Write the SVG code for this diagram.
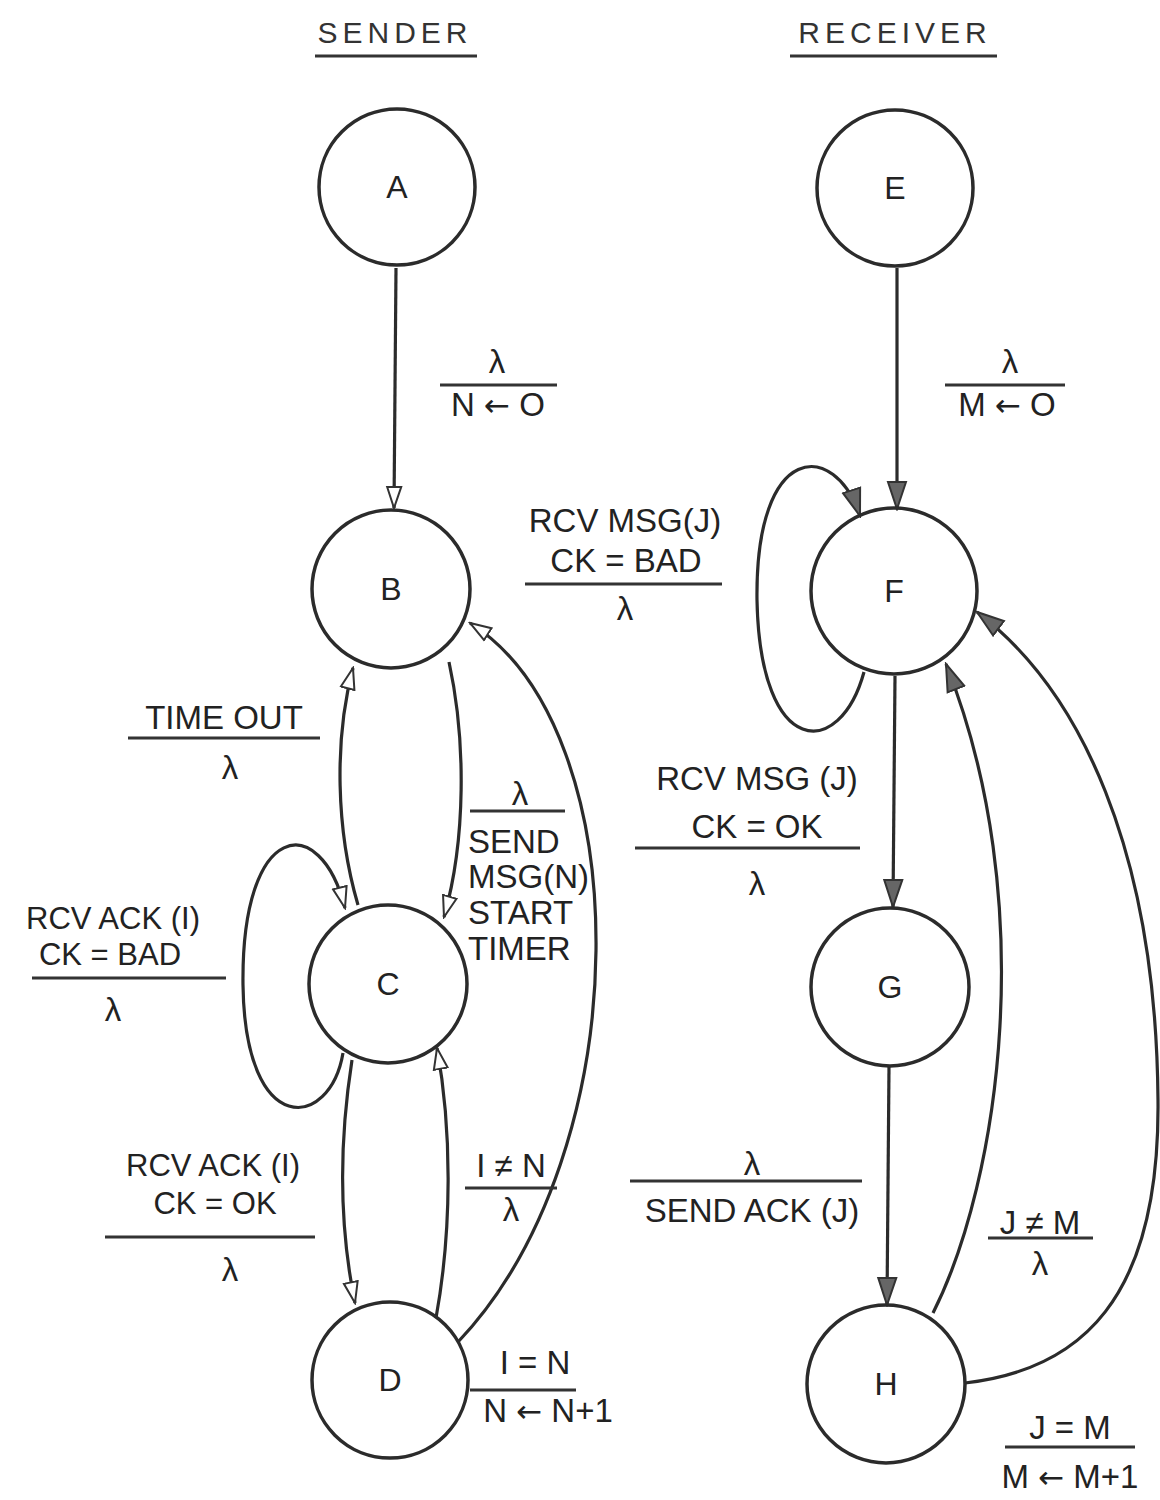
<svg xmlns="http://www.w3.org/2000/svg" width="1160" height="1500" viewBox="0 0 1160 1500">
<style>
.node circle{fill:none;stroke:#2b2b2b;stroke-width:3.5}
.node text{font-family:"Liberation Sans","DejaVu Sans",sans-serif;font-size:32px;fill:#222;text-anchor:middle}
.lbl{font-family:"Liberation Sans","DejaVu Sans",sans-serif;font-size:33px;fill:#222;text-anchor:middle}
.sm{font-size:31px}
.arr{font-family:"DejaVu Sans",sans-serif;font-size:31px}
.left{text-anchor:start}
.hdr{font-family:"Liberation Sans","DejaVu Sans",sans-serif;font-size:30px;fill:#333;text-anchor:middle;letter-spacing:5px}
.bar{stroke:#333;stroke-width:3;fill:none}
.edge path{fill:none;stroke:#2b2b2b;stroke-width:3.2}
.snd{marker-end:url(#open)}
.rcv{marker-end:url(#solid)}
</style>
<defs>
<marker id="open" markerWidth="24" markerHeight="18" refX="22" refY="9" orient="auto" markerUnits="userSpaceOnUse">
<path d="M1,2 L22,9 L1,16 Z" fill="#fff" stroke="#333" stroke-width="2"/>
</marker>
<marker id="solid" markerWidth="30" markerHeight="22" refX="28" refY="11" orient="auto" markerUnits="userSpaceOnUse">
<path d="M1,2 L28,11 L1,20 Z" fill="#666" stroke="#333" stroke-width="2"/>
</marker>
</defs>
<rect width="1160" height="1500" fill="#fff"/>

<g id="headers">
<text class="hdr" x="395" y="43">SENDER</text>
<line class="bar" x1="315" y1="56" x2="477" y2="56"/>
<text class="hdr" x="895" y="43">RECEIVER</text>
<line class="bar" x1="790" y1="56" x2="997" y2="56"/>
</g>

<g id="edges" class="edge">
<path id="e-AB" class="snd" d="M396,268 L394,508"/>
<path id="e-BC" class="snd" d="M449,662 C466,740 466,840 444,917"/>
<path id="e-CB" class="snd" d="M358,905 C336,830 334,740 353,668"/>
<path id="e-CC" class="snd" d="M343,1053 C330,1130 245,1140 243,985 C241,820 320,810 345,908"/>
<path id="e-CD" class="snd" d="M352,1060 C338,1150 340,1230 355,1303"/>
<path id="e-DC" class="snd" d="M436,1318 C452,1230 452,1130 437,1048"/>
<path id="e-DB" class="snd" d="M458,1342 C640,1150 640,730 470,623"/>
<path id="e-EF" class="rcv" d="M897,268 L897,509"/>
<path id="e-FF" class="rcv" d="M864,672 C840,760 760,760 757,600 C755,440 835,440 860,516"/>
<path id="e-FG" class="rcv" d="M895,676 L893,907"/>
<path id="e-GH" class="rcv" d="M889,1067 L887,1305"/>
<path id="e-HF1" class="rcv" d="M933,1313 C1000,1180 1040,900 946,664"/>
<path id="e-HF2" class="rcv" d="M965,1383 C1080,1370 1160,1300 1158,1100 C1156,850 1080,690 977,612"/>
</g>

<g id="labels">
<g id="l-AB">
<text class="lbl" x="497" y="373">λ</text>
<line class="bar" x1="440" y1="385" x2="557" y2="385"/>
<text class="lbl" x="498" y="416">N <tspan class="arr">←</tspan> O</text>
</g>
<g id="l-EF">
<text class="lbl" x="1010" y="373">λ</text>
<line class="bar" x1="945" y1="385" x2="1065" y2="385"/>
<text class="lbl" x="1007" y="416">M <tspan class="arr">←</tspan> O</text>
</g>
<g id="l-FF">
<text class="lbl" x="625" y="532">RCV MSG(J)</text>
<text class="lbl" x="626" y="572">CK = BAD</text>
<line class="bar" x1="525" y1="584" x2="722" y2="584"/>
<text class="lbl" x="625" y="620">λ</text>
</g>
<g id="l-FG">
<text class="lbl" x="757" y="790">RCV MSG (J)</text>
<text class="lbl" x="757" y="838">CK = OK</text>
<line class="bar" x1="635" y1="848" x2="860" y2="848"/>
<text class="lbl" x="757" y="895">λ</text>
</g>
<g id="l-GH">
<text class="lbl" x="752" y="1175">λ</text>
<line class="bar" x1="630" y1="1181" x2="862" y2="1181"/>
<text class="lbl" x="752" y="1222">SEND ACK (J)</text>
</g>
<g id="l-HF1">
<text class="lbl" x="1040" y="1234">J ≠ M</text>
<line class="bar" x1="988" y1="1238" x2="1093" y2="1238"/>
<text class="lbl" x="1040" y="1275">λ</text>
</g>
<g id="l-HF2">
<text class="lbl" x="1070" y="1439">J = M</text>
<line class="bar" x1="1005" y1="1447" x2="1135" y2="1447"/>
<text class="lbl" x="1070" y="1488">M <tspan class="arr">←</tspan> M+1</text>
</g>
<g id="l-CB">
<text class="lbl" x="224" y="729">TIME OUT</text>
<line class="bar" x1="128" y1="738" x2="320" y2="738"/>
<text class="lbl" x="230" y="779">λ</text>
</g>
<g id="l-BC">
<text class="lbl" x="520" y="805">λ</text>
<line class="bar" x1="470" y1="811" x2="565" y2="811"/>
<text class="lbl left" x="468" y="853">SEND</text>
<text class="lbl left" x="468" y="888">MSG(N)</text>
<text class="lbl left" x="468" y="924">START</text>
<text class="lbl left" x="468" y="960">TIMER</text>
</g>
<g id="l-CC">
<text class="lbl sm" x="113" y="929">RCV ACK (I)</text>
<text class="lbl sm" x="110" y="965">CK = BAD</text>
<line class="bar" x1="32" y1="978" x2="226" y2="978"/>
<text class="lbl" x="113" y="1021">λ</text>
</g>
<g id="l-CD">
<text class="lbl sm" x="213" y="1176">RCV ACK (I)</text>
<text class="lbl sm" x="215" y="1214">CK = OK</text>
<line class="bar" x1="105" y1="1237" x2="315" y2="1237"/>
<text class="lbl" x="230" y="1281">λ</text>
</g>
<g id="l-DC">
<text class="lbl" x="511" y="1177">I ≠ N</text>
<line class="bar" x1="465" y1="1188" x2="557" y2="1188"/>
<text class="lbl" x="511" y="1221">λ</text>
</g>
<g id="l-DB">
<text class="lbl" x="535" y="1374">I = N</text>
<line class="bar" x1="470" y1="1390" x2="576" y2="1390"/>
<text class="lbl" x="548" y="1422">N <tspan class="arr">←</tspan> N+1</text>
</g>
</g>

<g id="node-A" class="node"><circle cx="397" cy="187" r="78"/><text x="397" y="198">A</text></g>
<g id="node-B" class="node"><circle cx="391" cy="589" r="79"/><text x="391" y="600">B</text></g>
<g id="node-C" class="node"><circle cx="388" cy="984" r="79"/><text x="388" y="995">C</text></g>
<g id="node-D" class="node"><circle cx="390" cy="1380" r="78"/><text x="390" y="1391">D</text></g>
<g id="node-E" class="node"><circle cx="895" cy="188" r="78"/><text x="895" y="199">E</text></g>
<g id="node-F" class="node"><circle cx="894" cy="591" r="83"/><text x="894" y="602">F</text></g>
<g id="node-G" class="node"><circle cx="890" cy="987" r="79"/><text x="890" y="998">G</text></g>
<g id="node-H" class="node"><circle cx="886" cy="1384" r="79"/><text x="886" y="1395">H</text></g>
</svg>
